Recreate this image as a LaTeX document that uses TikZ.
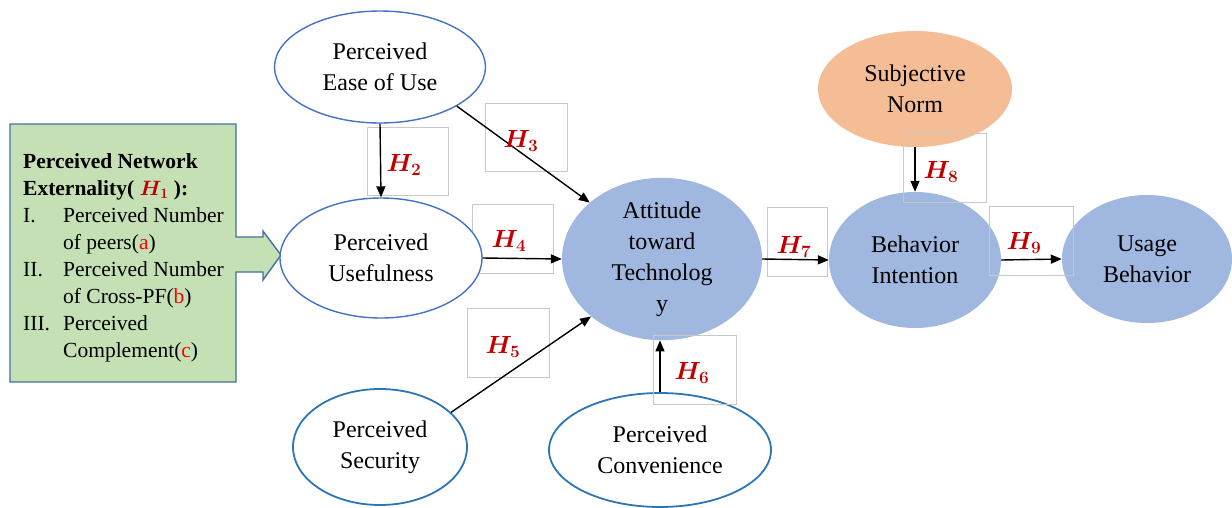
\documentclass[tikz,border=0pt]{standalone}
\usepackage{fontspec}
\setmainfont{Liberation Serif}
\usepackage{bm}
\usetikzlibrary{shapes.geometric,arrows.meta}

\definecolor{ringblue}{HTML}{4472C4}
\definecolor{ringcyan}{HTML}{2E75B6}
\definecolor{coreblue}{HTML}{A0B8E0}
\definecolor{normorange}{HTML}{F5BD96}
\definecolor{extgreen}{HTML}{C5E0B4}
\definecolor{extborder}{HTML}{41719C}
\definecolor{hypred}{HTML}{C00000}
\definecolor{tagbox}{HTML}{C8C8C8}

\tikzset{
  construct/.style={ellipse, inner sep=0pt, align=center,
    font=\fontsize{24}{31}\selectfont},
  outlined/.style={construct, draw=ringblue, line width=1.4pt, fill=white},
  outlinedcyan/.style={construct, draw=ringcyan, line width=1.8pt, fill=white},
  coreconstruct/.style={construct, fill=coreblue},
  normconstruct/.style={construct, fill=normorange},
  path arrow/.style={-{Triangle[length=11pt,width=9pt]}, line width=1.4pt},
  hyp/.style={text=hypred, inner sep=0pt, font=\fontsize{24}{28}\selectfont},
  tagframe/.style={draw=tagbox, line width=0.7pt}
}

\begin{document}
\begin{tikzpicture}[x=1pt, y=-1pt]
\useasboundingbox (0,0) rectangle (1232,507);

% external factor box with its pointer
\draw[fill=extgreen, draw=extborder, line width=1.4pt]
  (10,124) -- (236,124) -- (236,237) -- (263,237) -- (263,231) -- (281,255)
  -- (263,280) -- (263,272) -- (236,272) -- (236,382) -- (10,382) -- cycle;
\node[anchor=base west, inner sep=0pt, font=\fontsize{21.5}{27}\selectfont] (netext) at (23,168)
  {\begin{tabular}[t]{@{}p{40pt}@{}l@{}}
   \multicolumn{2}{@{}l@{}}{\textbf{Perceived Network}}\\
   \multicolumn{2}{@{}l@{}}{\textbf{Externality( \textcolor{hypred}{$\bm{H_1}$} ):}}\\
   I. & Perceived Number\\
      & of peers(\textcolor{red}{a})\\
   II. & Perceived Number\\
      & of Cross-PF(\textcolor{red}{b})\\
   III. & Perceived\\
      & Complement(\textcolor{red}{c})
   \end{tabular}};

% tag frame partly hidden by the usefulness ellipse
\draw[tagframe] (472,204) rectangle (553,273);

% constructs
\node[outlined, minimum width=211pt, minimum height=112pt] (ease) at (380,67) {Perceived\\Ease of Use};
\node[outlined, minimum width=202pt, minimum height=120pt] (use) at (381,258) {Perceived\\Usefulness};
\node[coreconstruct, minimum width=200pt, minimum height=153pt] (att) at (662,259) {Attitude\\toward\\Technolog\\y};
\node[outlinedcyan, minimum width=174pt, minimum height=116pt] (sec) at (380,447) {Perceived\\Security};
\node[outlinedcyan, minimum width=222pt, minimum height=114pt] (conv) at (660,450) {Perceived\\Convenience};
\node[normconstruct, minimum width=194pt, minimum height=116pt] (sn) at (915,89) {Subjective\\Norm};
\node[coreconstruct, minimum width=172pt, minimum height=136pt] (bi) at (915,260) {Behavior\\Intention};
\node[coreconstruct, minimum width=170pt, minimum height=128pt] (ub) at (1147,259) {Usage\\Behavior};

% tag frames
\draw[tagframe] (367,127) rectangle (448,195);
\draw[tagframe] (485,103) rectangle (567,171);
\draw[tagframe] (467,308) rectangle (549,377);
\draw[tagframe] (653,335) rectangle (736,404);
\draw[tagframe] (767,207) rectangle (827,276);
\draw[tagframe] (903,133) rectangle (986,202);
\draw[tagframe] (989,206) rectangle (1073,275);

% hypothesised paths
\draw[path arrow] (ease.south) -- (use.north);
\draw[path arrow] (ease.-27) -- (att.142);
\draw[path arrow] (use.east) -- (att.west);
\draw[path arrow] (sec.26) -- (att.219);
\draw[path arrow] (conv.north) -- (conv.north |- att.south);
\draw[path arrow] (att.east) -- (bi.west);
\draw[path arrow] (sn.south) -- (bi.north);
\draw[path arrow] (bi.east) -- (ub.west);

% hypothesis labels
\node[hyp] (h2) at (404,165) {$\bm{H_2}$};
\node[hyp] (h3) at (521,141) {$\bm{H_3}$};
\node[hyp] (h4) at (509,241) {$\bm{H_4}$};
\node[hyp] (h5) at (503,347) {$\bm{H_5}$};
\node[hyp] (h6) at (692,373) {$\bm{H_6}$};
\node[hyp] (h7) at (794,247) {$\bm{H_7}$};
\node[hyp] (h8) at (941,172) {$\bm{H_8}$};
\node[hyp] (h9) at (1024,243) {$\bm{H_9}$};
\end{tikzpicture}
\end{document}
